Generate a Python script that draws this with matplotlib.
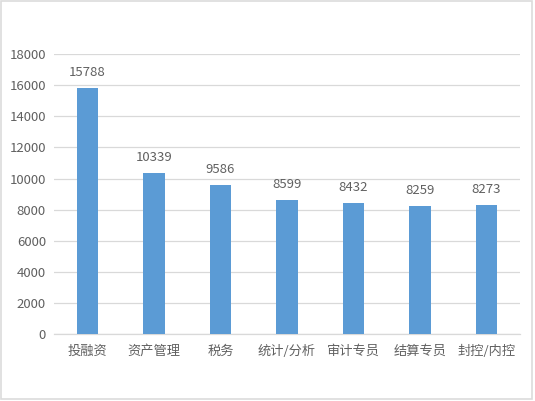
import matplotlib
matplotlib.use("Agg")
import matplotlib.pyplot as plt
from matplotlib.patches import Rectangle

plt.rcParams['font.family'] = ['Noto Sans CJK SC', 'DejaVu Sans']

categories = ['投融资', '资产管理', '税务', '统计/分析', '审计专员', '结算专员', '封控/内控']
values = [15788, 10339, 9586, 8599, 8432, 8259, 8273]
yticks = [0, 2000, 4000, 6000, 8000, 10000, 12000, 14000, 16000, 18000]

BAR = '#5b9bd5'
TXT = '#606060'
GRID = '#d9d9d9'

fig = plt.figure(figsize=(5.35, 4.01), dpi=100)
ax = fig.add_axes([54.25 / 535, 1 - 334.3 / 401, 465.5 / 535, (334.3 - 54) / 401])

x = list(range(len(categories)))
bars = ax.bar(x, values, width=0.32, color=BAR, zorder=3)
for b, v in zip(bars, values):
    ax.annotate(str(v), (b.get_x() + b.get_width() / 2, v), xytext=(0, 6.5),
                textcoords='offset points', ha='center', va='bottom',
                fontsize=9.5, color=TXT)

ax.set_xlim(-0.5, len(categories) - 0.5)
ax.set_ylim(0, 18000)
ax.set_yticks(yticks)
ax.set_xticks(x)
ax.set_xticklabels(categories)
ax.tick_params(axis='both', length=0, labelsize=9.5, labelcolor=TXT)
ax.tick_params(axis='y', pad=6)
ax.tick_params(axis='x', pad=7.5)
ax.grid(axis='y', color=GRID, linewidth=0.9, zorder=0)
for s in ['top', 'right', 'left']:
    ax.spines[s].set_visible(False)
ax.spines['bottom'].set_color(GRID)
ax.spines['bottom'].set_linewidth(0.9)

# thin frame around the picture
fig.patches.append(Rectangle((0.002, 0.004), 0.992, 0.994, transform=fig.transFigure,
                             fill=False, edgecolor='#dcdcdc', linewidth=1.2))

fig.savefig('out.png', dpi=100, facecolor='white')
